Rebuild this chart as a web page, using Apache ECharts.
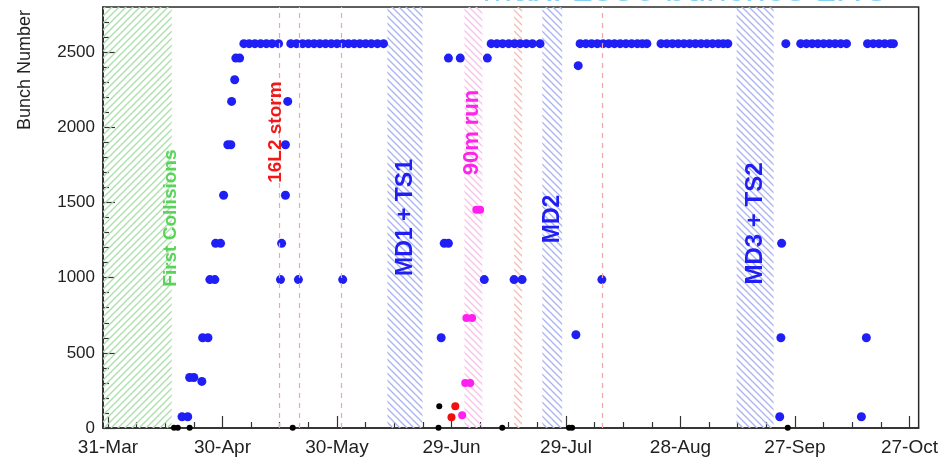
<!DOCTYPE html>
<html><head><meta charset="utf-8">
<script src="https://cdn.jsdelivr.net/npm/echarts@6/dist/echarts.min.js"></script>
<style>html,body{margin:0;padding:0;background:#fff}#c{width:941px;height:464px}</style>
</head><body><div id="c"></div>
<script>
// ---- data (x = days since 31-Mar-2016) ----
const xTickDays = [0, 30, 60, 90, 120, 150, 180, 210];
const xTickLabels = ['31-Mar', '30-Apr', '30-May', '29-Jun', '29-Jul', '28-Aug', '27-Sep', '27-Oct'];
const xMinorDays = [7.5, 15, 22.5, 37.5, 45, 52.5, 67.5, 75, 82.5, 97.5, 105, 112.5, 127.5, 135, 142.5, 157.5, 165, 172.5, 187.5, 195, 202.5];
const yTickValues = [0, 500, 1000, 1500, 2000, 2500];
const yMinorValues = [100, 200, 300, 400, 600, 700, 800, 900, 1100, 1200, 1300, 1400, 1600, 1700, 1800, 1900, 2100, 2200, 2300, 2400, 2600, 2700];

const fullFillValue = 2556;
const fullFillDays = [35.6, 37, 38.5, 40, 41.5, 43, 44.7,
  47.9, 49.4, 51, 52.5, 54, 55.5, 57, 58.5, 60, 61.5, 63, 64.5, 66, 67.5, 69, 70.6, 72.2,
  100.4, 101.9, 103.4, 105, 106.5, 108, 109.6, 111.2, 113.2,
  123.7, 125.2, 126.7, 128.2, 129.7, 131.2, 132.7, 134.2, 135.7, 137.2, 138.7, 140, 141.2,
  144.9, 146.4, 147.9, 149.4, 150.9, 152.4, 153.9, 155.4, 156.9, 158.4, 159.9, 161.2, 162.4,
  177.6,
  181.5, 183, 184.5, 186, 187.5, 189, 190.5, 192, 193.5,
  199, 200.5, 202, 203.5, 205, 205.8];

const bluePoints = [[33.5, 2460], [34.5, 2460], [33.2, 2316], [32.4, 2172], [31.4, 1884], [32.2, 1884], [30.3, 1548],
  [47.1, 2172], [46.5, 1884], [46.5, 1548], [28.2, 1228], [29.5, 1228], [45.5, 1228],
  [26.7, 987], [28.0, 987], [45.2, 987], [49.9, 987], [61.5, 987], [24.8, 600], [26.2, 600],
  [21.4, 336], [22.5, 336], [24.6, 310], [19.4, 75], [20.9, 75],
  [88.1, 1228], [89.2, 1228], [98.6, 987], [106.4, 987], [108.5, 987], [129.4, 987],
  [87.3, 600], [122.6, 620], [89.2, 2460], [92.3, 2460], [99.4, 2460], [123.2, 2410],
  [176.5, 1228], [176.3, 600], [198.7, 600], [176.0, 75], [197.4, 75]];
const blackPoints = [[17.3, 1], [18.3, 1], [21.4, 1], [48.4, 1], [86.8, 144], [86.6, 1], [103.3, 1], [120.8, 1], [121.6, 1], [178.1, 1]];
const redPoints = [[91.0, 144], [90.0, 72]];
const magentaPoints = [[92.8, 84], [93.6, 300], [94.9, 300], [93.9, 732], [95.4, 732], [96.5, 1452], [97.5, 1452]];

const hatchBands = [
  { from: 'min', to: 16.7, kind: 'green' },
  { from: 73.2, to: 82.4, kind: 'blue' },
  { from: 93.4, to: 98.1, kind: 'pink' },
  { from: 106.4, to: 108.5, kind: 'red' },
  { from: 113.8, to: 119.0, kind: 'blue' },
  { from: 164.7, to: 174.4, kind: 'blue' }
];
const dashedLineDays = [45, 50.2, 61.2, 129.4];

const annotations = [
  { text: 'First Collisions', day: 16.5, value: 1396, kind: 'green', size: 19 },
  { text: '16L2 storm', day: 43.9, value: 1968, kind: 'red', size: 19 },
  { text: 'MD1 + TS1', day: 77.9, value: 1400, kind: 'blue', size: 23 },
  { text: '90m run', day: 95.3, value: 1965, kind: 'pink', size: 22 },
  { text: 'MD2', day: 116.6, value: 1390, kind: 'blue', size: 23 },
  { text: 'MD3 + TS2', day: 169.7, value: 1360, kind: 'blue', size: 24 }
];

// ---- styles ----
const FONT = 'Liberation Sans, Arial, Helvetica, sans-serif';
const hatchColor = { green: '#a9dfa9', blue: '#a9b2f2', pink: '#f7c2ea', red: '#f4bcb4' };
const hatchDir = { green: '/', blue: '\\', pink: '\\', red: '\\' };
const textColor = { green: '#5ad35a', blue: '#1e1ef5', red: '#f01818', pink: '#ff24ea' };

function hatch(color, dir) {
  const s = 7;
  const c = document.createElement('canvas');
  c.width = s; c.height = s;
  const g = c.getContext('2d');
  g.strokeStyle = color; g.lineWidth = 1.3;
  g.beginPath();
  for (const o of [-s, 0, s]) {
    if (dir === '/') { g.moveTo(o - 1, s + 1); g.lineTo(o + s + 1, -1); }
    else { g.moveTo(o - 1, -1); g.lineTo(o + s + 1, s + 1); }
  }
  g.stroke();
  return c;
}

const xMin = -1.3, xMax = 212.4;
const chart = echarts.init(document.getElementById('c'), null, { renderer: 'canvas' });

const axisCommon = { min: xMin, max: xMax, type: 'value', splitLine: { show: false } };

chart.setOption({
  animation: false,
  backgroundColor: '#fff',
  grid: { left: 103, right: 21, top: 7, bottom: 36, show: true, borderColor: '#2a2a2a', borderWidth: 1.5, backgroundColor: 'transparent' },
  xAxis: [
    Object.assign({}, axisCommon, {
      position: 'bottom',
      axisLine: { show: true, onZero: false, lineStyle: { color: '#2a2a2a', width: 1.5 } },
      axisTick: { show: true, inside: true, length: 12, customValues: xTickDays, lineStyle: { color: '#333', width: 1.2 } },
      axisLabel: { show: true, customValues: xTickDays, margin: 10, fontSize: 19, fontFamily: FONT, color: '#222',
        formatter: v => { const i = xTickDays.indexOf(v); return i >= 0 ? xTickLabels[i] : ''; } }
    }),
    Object.assign({}, axisCommon, {
      position: 'bottom',
      axisLine: { show: false, onZero: false },
      axisTick: { show: true, inside: true, length: 6, customValues: xMinorDays, lineStyle: { color: '#333', width: 1.2 } },
      axisLabel: { show: false }
    })
  ],
  yAxis: [
    {
      type: 'value', min: 0, max: 2800, position: 'left', splitLine: { show: false },
      axisLine: { show: true, onZero: false, lineStyle: { color: '#2a2a2a', width: 1.5 } },
      axisTick: { show: true, inside: true, length: 12, customValues: yTickValues, lineStyle: { color: '#333', width: 1.2 } },
      axisLabel: { show: true, customValues: yTickValues, margin: 8, fontSize: 17, fontFamily: FONT, color: '#222',
        formatter: v => String(v) }
    },
    {
      type: 'value', min: 0, max: 2800, position: 'left', splitLine: { show: false },
      axisLine: { show: false, onZero: false },
      axisTick: { show: true, inside: true, length: 6, customValues: yMinorValues, lineStyle: { color: '#333', width: 1.2 } },
      axisLabel: { show: false }
    }
  ],
  graphic: [
    { type: 'text', x: 25, y: 70, rotation: Math.PI / 2, z: 10,
      style: { text: 'Bunch Number', fontSize: 18, fontFamily: FONT, fill: '#222', align: 'center', verticalAlign: 'middle' } },
    { type: 'text', x: 482, y: 9, z: 0,
      style: { text: 'Max. 2556 bunches LHC', fontSize: 37, fontFamily: FONT, fill: '#86d2f6', align: 'left', verticalAlign: 'bottom' } }
  ],
  series: [
    {
      type: 'scatter', name: 'bands', data: [], z: 1, silent: true,
      markArea: {
        silent: true,
        data: hatchBands.map(b => [
          { xAxis: b.from, itemStyle: { color: { image: hatch(hatchColor[b.kind], hatchDir[b.kind]), repeat: 'repeat' } } },
          { xAxis: b.to }
        ])
      },
      markLine: {
        silent: true, symbol: ['none', 'none'], label: { show: false },
        lineStyle: { color: '#f4a6a6', type: [5, 5], width: 1.2, opacity: 1 },
        data: dashedLineDays.map(d => ({ xAxis: d }))
      }
    },
    { type: 'scatter', name: 'full', z: 3, symbolSize: 9, itemStyle: { color: '#1f1ff5', opacity: 1 },
      data: fullFillDays.map(d => [d, fullFillValue]) },
    { type: 'scatter', name: 'blue', z: 3, symbolSize: 9, itemStyle: { color: '#1f1ff5', opacity: 1 }, data: bluePoints },
    { type: 'scatter', name: 'magenta', z: 3, symbolSize: 8, itemStyle: { color: '#ff1ff0', opacity: 1 }, data: magentaPoints },
    { type: 'scatter', name: 'red', z: 3, symbolSize: 8, itemStyle: { color: '#f01010', opacity: 1 }, data: redPoints },
    { type: 'scatter', name: 'black', z: 4, symbolSize: 6, clip: false, itemStyle: { color: '#000', opacity: 1 }, data: blackPoints },
    { type: 'scatter', name: 'labels', z: 6, symbolSize: 0, silent: true, itemStyle: { opacity: 1 },
      data: annotations.map(a => ({
        value: [a.day, a.value],
        label: { show: true, formatter: a.text, rotate: 90, position: 'inside', fontSize: a.size, fontWeight: 'bold',
          fontFamily: FONT, color: textColor[a.kind], opacity: 1 }
      })) }
  ]
});
</script></body></html>
